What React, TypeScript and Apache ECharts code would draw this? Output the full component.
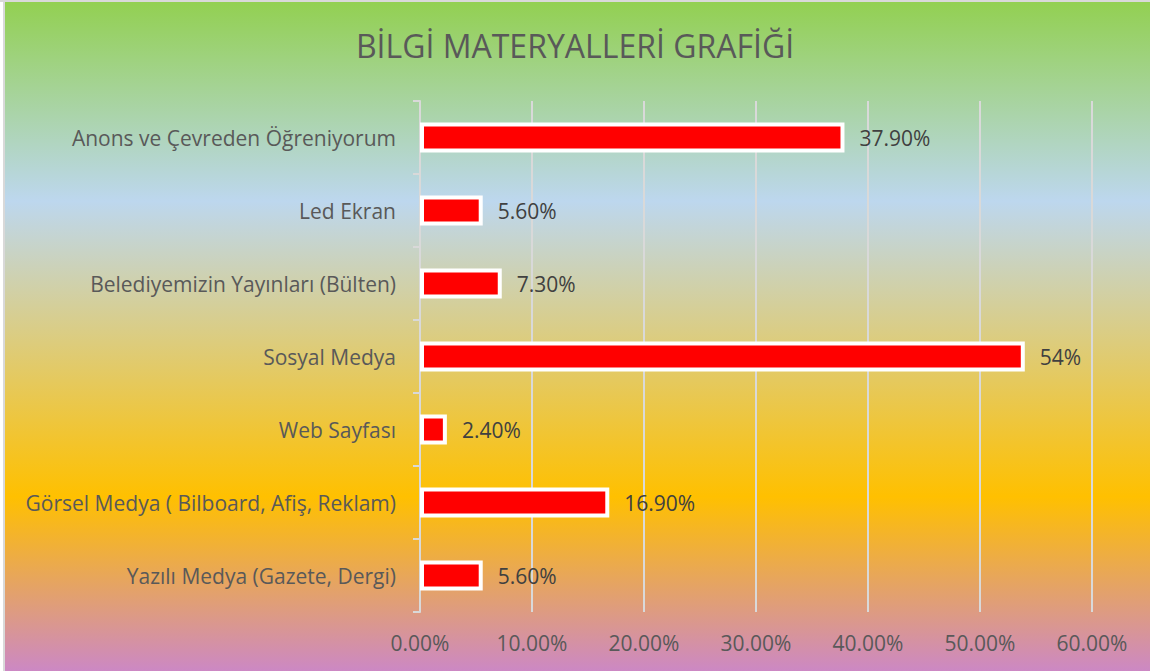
import React, { useEffect, useRef } from "react";
import * as echarts from "echarts";

const categories = [
  "Yazılı Medya (Gazete, Dergi)",
  "Görsel Medya ( Bilboard, Afiş, Reklam)",
  "Web Sayfası",
  "Sosyal Medya",
  "Belediyemizin Yayınları (Bülten)",
  "Led Ekran",
  "Anons ve Çevreden Öğreniyorum",
];
const values = [5.6, 16.9, 2.4, 54, 7.3, 5.6, 37.9];
const valueLabels = ["5.60%", "16.90%", "2.40%", "54%", "7.30%", "5.60%", "37.90%"];
const title = "BİLGİ MATERYALLERİ GRAFİĞİ";

export default function App() {
  const ref = useRef<HTMLDivElement>(null);
  useEffect(() => {
    document.body.style.margin = "0";
    const chart = echarts.init(ref.current!, null, { renderer: "svg" });
    const font = "'Open Sans', sans-serif";
    chart.setOption({
      animation: false,
      backgroundColor: {
        type: "linear",
        x: 0,
        y: 0,
        x2: 0,
        y2: 1,
        colorStops: [
          { offset: 0, color: "#92d050" },
          { offset: 0.3, color: "#bdd7ee" },
          { offset: 0.74, color: "#ffc000" },
          { offset: 1, color: "#cc88c4" },
        ],
      },
      graphic: [
        { type: "rect", left: 0, top: 0, shape: { width: 3, height: 671 }, style: { fill: "#ffffff" }, silent: true },
        { type: "rect", left: 3, top: 0, shape: { width: 2, height: 671 }, style: { fill: "#d9d9d9" }, silent: true },
        { type: "rect", left: 0, top: 0, shape: { width: 1150, height: 2 }, style: { fill: "#d9d9d9" }, silent: true },
      ],
      title: {
        text: title,
        left: "center",
        top: 24,
        textStyle: {
          fontFamily: font,
          fontSize: 32,
          fontWeight: "normal",
          color: "#595959",
        },
      },
      grid: { left: 420, right: 58, top: 101, bottom: 59, containLabel: false },
      xAxis: {
        type: "value",
        min: 0,
        max: 60,
        interval: 10,
        axisLine: { show: false },
        axisTick: { show: false },
        splitLine: { show: true, lineStyle: { color: "#d9d9d9", width: 2 } },
        axisLabel: {
          margin: 20,
          fontFamily: font,
          fontSize: 21,
          color: "#595959",
          formatter: (v: number) => v.toFixed(2) + "%",
        },
      },
      yAxis: {
        type: "category",
        data: categories,
        axisLine: { show: true, lineStyle: { color: "#d9d9d9", width: 2 } },
        axisTick: { show: true, length: 7, lineStyle: { color: "#d9d9d9", width: 2 } },
        axisLabel: {
          margin: 24,
          fontFamily: font,
          fontSize: 21,
          color: "#595959",
        },
      },
      series: [
        {
          type: "bar",
          data: values,
          barWidth: 30,
          itemStyle: { color: "#ff0000", borderColor: "#ffffff", borderWidth: 4 },
          label: {
            show: true,
            position: "right",
            distance: 15,
            fontFamily: font,
            fontSize: 21,
            color: "#404040",
            formatter: (p: any) => valueLabels[p.dataIndex],
          },
        },
      ],
    });
    return () => chart.dispose();
  }, []);
  return <div ref={ref} style={{ width: 1150, height: 671 }} />;
}
